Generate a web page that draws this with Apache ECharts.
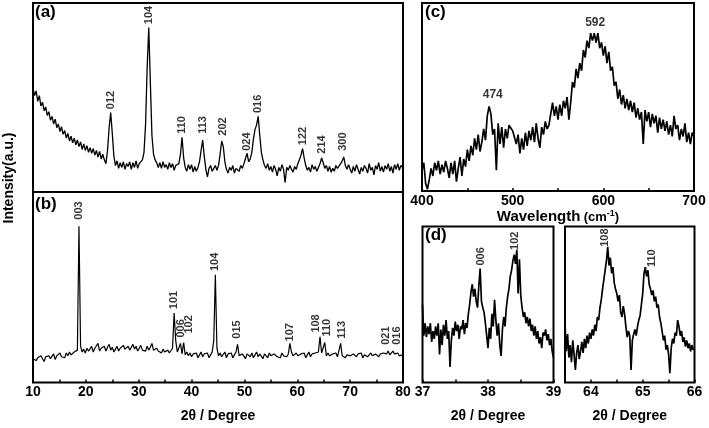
<!DOCTYPE html>
<html><head><meta charset="utf-8">
<script src="https://cdn.jsdelivr.net/npm/echarts/dist/echarts.min.js"></script>
<style>html,body{margin:0;padding:0;background:#fff}#c{width:709px;height:428px}</style>
</head><body><div id="c"></div>
<script>
const FONT = '"Liberation Sans", Arial, Helvetica, sans-serif';

// ---------- (a) XRD pattern, 2θ from 10 in 0.3° steps ----------
const aStart = 10, aStep = 0.3;
const aIntensity = [
 55, 51, 53.5, 48, 51, 45.5, 47.5, 43, 45, 40.5,
 42.5, 38, 40, 36, 38.5, 34, 36, 32, 34.5, 30.5,
 32.5, 28.5, 31, 27, 29.5, 26, 28.5, 25, 27.5, 24,
 26.5, 22.5, 25.5, 22, 24.5, 21, 23.5, 20.5, 23, 19.5,
 22, 18.5, 21.5, 17.5, 20, 17, 15, 22, 34, 42,
 31, 19, 14, 16.5, 12.5, 15.5, 13, 16, 12, 15,
 13.5, 16, 12, 15.5, 13, 16.5, 12.5, 15, 14, 17,
 21, 36, 66, 87, 58, 30, 20, 17, 15.5, 13,
 15.5, 12.5, 16, 13, 14.5, 12, 15.5, 13, 15, 11.5,
 14, 13, 15, 20, 29, 18, 13, 11, 14.5, 12,
 14.5, 10.5, 13.5, 11, 13, 16, 22, 27.5, 19, 12,
 8, 12.5, 14, 11, 12.5, 14, 11.5, 14, 20, 27,
 24, 16, 12, 10, 13, 11.5, 14, 10, 12.5, 13.5,
 11, 14, 12.5, 15, 16, 20.5, 16, 17.5, 21, 28,
 33, 35.5, 40, 30, 21, 17, 14, 12.5, 15, 11.5,
 13.5, 10.5, 14, 12, 8.5, 13, 11, 14.5, 12, 5,
 13, 11.5, 14, 12, 10.5, 13.5, 12, 15, 17, 19.5,
 23, 18, 14, 11.5, 13, 10.5, 14.5, 12, 13.5, 11,
 13, 15, 18, 15.5, 12.5, 14, 11, 13.5, 10.5, 12.5,
 11, 14, 12.5, 13.5, 15, 16.5, 18.5, 14, 12, 14.5,
 12, 10, 13.5, 11, 14.5, 12, 9.5, 13, 11, 14,
 12.5, 10, 15, 11.5, 13, 9, 14, 12, 15.5, 11,
 13.5, 10.5, 14, 12, 15, 11, 13.5, 10, 14.5, 12,
 15, 11.5, 14, 13
];
const aPeakNames = ['012','104','110','113','202','024','016','122','214','300'];
const aPeakPos   = [24.7, 31.9, 38.1, 42.2, 45.9, 50.4, 52.6, 61.1, 64.6, 68.7];
const aPeakTop   = [43, 88, 30, 30, 29, 21, 41, 24, 19.5, 21];

// ---------- (b) XRD pattern, 2θ from 10 in 0.3° steps ----------
const bStart = 10, bStep = 0.3;
const bIntensity = [
 12.5, 13.5, 11.5, 13, 12, 14, 12.5, 11, 13.5, 12.5,
 14, 12.5, 13.5, 15, 12, 14, 13, 15.5, 13.5, 14.5,
 13, 15.5, 14, 16, 14.5, 13.5, 16, 15, 17, 82,
 19, 16, 17.5, 15.5, 18, 16.5, 17, 19, 16, 18,
 17, 20.5, 16.5, 18, 17, 19, 16.5, 18.5, 20, 17,
 18.5, 16, 17.5, 19, 16.5, 18, 17, 19.5, 17.5, 18,
 19, 17, 18.5, 20, 17.5, 19, 16.5, 18, 19.5, 17,
 18, 16.5, 19, 17, 18.5, 20.5, 17, 16, 18, 16.5,
 17, 15.5, 17.5, 16, 15, 17, 15.5, 16.5, 18, 36.5,
 22, 16, 15.5, 20.5, 15, 21, 14.5, 16, 14, 15.5,
 13.5, 15, 14, 15.5, 13, 14.5, 16, 13.5, 15, 14,
 15.5, 13, 14.5, 16, 22, 56.5, 18, 14, 15.5, 13.5,
 14.5, 16, 13, 15, 14, 15.5, 13, 14.5, 16, 20,
 14, 13, 15, 14.5, 12.5, 15, 14, 13.5, 15.5, 13,
 14.5, 16, 13.5, 15, 14, 12.5, 15, 14.5, 13, 15.5,
 14, 13, 15, 16, 13.5, 14.5, 13, 15.5, 14, 15,
 13.5, 15, 20.5, 16, 14, 13, 15.5, 14, 13.5, 15,
 14, 15.5, 13, 14.5, 16, 13.5, 15, 14, 15.5, 14.5,
 16, 24, 15.5, 15, 21, 14, 15.5, 14, 13, 15,
 14, 15.5, 13.5, 14.5, 20.5, 14, 15, 13, 14.5, 15.5,
 14, 13, 15, 14.5, 13.5, 15, 14, 15.5, 13, 14.5,
 15, 13.5, 14, 15.5, 14, 13, 15, 14.5, 13.5, 15,
 14, 15.5, 16, 15, 16.5, 14.5, 15, 16.5, 15, 14,
 15.5, 14, 15, 14.5
];
const bPeakNames = ['003','101','006','102','104','015','107','108','110','113','021','016'];
const bPeakPos   = [18.7, 36.7, 37.9, 39.5, 44.5, 48.6, 58.7, 63.6, 65.7, 68.4, 76.7, 78.8];
const bPeakTop   = [84.7, 37.7, 22.8, 24.9, 57.7, 22.2, 20.8, 25.4, 23.3, 22.2, 19, 19];

// ---------- (c) spectrum, from 400 cm-1 in 2 cm-1 steps ----------
const cStart = 400, cStep = 2;
const cIntensity = [
 11, 15, 4, 1, 6, 12, 8, 15, 11, 16,
 9, 14, 10, 16, 12, 7, 15, 9, 16, 5,
 12, 18, 8, 17, 13, 22, 16, 24, 19, 28,
 22, 30, 21, 26, 33, 27, 40, 45, 41, 30,
 33, 11, 36, 25, 34, 23, 33, 28, 35, 34,
 32, 31, 25, 30, 20, 28, 22, 31, 24, 32,
 27, 34, 26, 36, 28, 23, 34, 30, 37, 33,
 35, 41, 47, 40, 45, 38, 46, 40, 48, 44,
 50, 38, 47, 58, 55, 65, 60, 68, 64, 75,
 71, 80, 76, 84, 80, 84, 79, 84, 76, 79,
 72, 77, 68, 74, 64, 66, 56, 58, 49, 54,
 46, 51, 44, 49, 43, 48, 42, 47, 39, 44,
 38, 42, 25, 43, 37, 42, 34, 41, 36, 40,
 31, 39, 33, 38, 32, 37, 30, 35, 29, 40,
 33, 35, 27, 33, 29, 36, 26, 31, 25, 31,
 29
];
const cPeakNames = ['474','592'];
const cPeakPos   = [478, 591];
const cPeakTop   = [47, 85.6];

// ---------- (d) zoomed XRD regions ----------
const d1Start = 37, d1Step = 0.02;
const d1Intensity = [
 50, 30, 38, 29, 36, 31, 38, 26, 33, 28,
 36, 30, 38, 18, 34, 24, 37, 30, 40, 28,
 33, 10, 27, 35, 30, 39, 33, 37, 28, 36,
 34, 40, 31, 38, 35, 44, 50, 58, 63, 55,
 60, 52, 48, 62, 73, 52, 48, 45, 38, 30,
 22, 35, 28, 44, 36, 53, 40, 30, 38, 24,
 17, 34, 42, 36, 48, 55, 60, 68, 72, 78,
 82, 76, 85, 57, 79, 56, 48, 42, 45, 38,
 42, 36, 41, 33, 37, 30, 36, 28, 33, 25,
 29, 22, 32, 30, 34, 27, 31, 24, 28, 20,
 16
];
const d1PeakNames = ['006','102'];
const d1PeakPos   = [37.89, 38.41];
const d1PeakTop   = [74, 84];

const d2Start = 63.5, d2Step = 0.025;
const d2Intensity = [
 38, 20, 31, 16, 24, 13, 27, 18, 8, 19,
 24, 15, 20, 26, 19, 28, 22, 30, 25, 32,
 28, 34, 30, 37, 33, 42, 40, 48, 53, 60,
 66, 72, 78, 87, 75, 80, 70, 74, 64, 60,
 57, 52, 56, 45, 42, 49, 44, 36, 29, 33,
 30, 8, 27, 31, 34, 30, 36, 40, 43, 50,
 57, 70, 74, 68, 72, 63, 60, 56, 59, 52,
 55, 48, 50, 42, 38, 33, 27, 30, 21, 24,
 18, 6, 22, 28, 25, 32, 30, 40, 36, 30,
 33, 26, 29, 23, 27, 22, 25, 20, 24, 21,
 22
];
const d2PeakNames = ['108','110'];
const d2PeakPos   = [64.27, 65.18];
const d2PeakTop   = [86, 73];

// ---------- build ----------
function toPairs(start, step, vals) {
  return vals.map((v, i) => [+(start + i * step).toFixed(4), v]);
}
function trace(gi, data, width) {
  return { type: 'line', xAxisIndex: gi, yAxisIndex: gi, data: data, showSymbol: false, symbol: 'none',
    lineStyle: { color: '#000', width: width }, silent: true, animation: false, z: 3 };
}
function peakLabels(gi, names, xs, ys, rotated, size) {
  return { type: 'scatter', xAxisIndex: gi, yAxisIndex: gi, symbolSize: 1, silent: true, animation: false, z: 5,
    itemStyle: { color: 'rgba(0,0,0,0)' },
    data: names.map((n, i) => ({ name: n, value: [xs[i], ys[i]] })),
    label: { show: true, formatter: '{b}', position: 'top', distance: 1,
      rotate: rotated ? 90 : 0, align: rotated ? 'left' : 'center', verticalAlign: rotated ? 'middle' : 'bottom',
      color: '#000', fontSize: size, fontWeight: 'bold', fontFamily: FONT } };
}
function xAx(gi, min, max, interval, every, name, gap, nameStyle) {
  return { type: 'value', gridIndex: gi, min: min, max: max, interval: interval,
    axisLine: { show: false }, splitLine: { show: false },
    axisTick: { show: true, inside: true, length: 3, lineStyle: { color: '#000', width: 1.5 } },
    axisLabel: { color: '#000', fontSize: 14, fontWeight: 'bold', fontFamily: FONT, margin: 3,
      formatter: v => (Math.abs(v / every - Math.round(v / every)) < 1e-6 ? String(Math.round(v)) : '') },
    name: name, nameLocation: 'middle', nameGap: gap,
    nameTextStyle: nameStyle || { color: '#000', fontSize: 14, fontWeight: 'bold', fontFamily: FONT } };
}
function yAx(gi) { return { type: 'value', gridIndex: gi, min: 0, max: 100, show: false }; }

const gridStyle = { show: true, borderColor: '#000', borderWidth: 2, backgroundColor: 'transparent' };
const option = {
  backgroundColor: '#fff',
  animation: false,
  grid: [
    Object.assign({ left: 33, top: 3, width: 370, height: 189 }, gridStyle),
    Object.assign({ left: 33, top: 192, width: 370, height: 190.5 }, gridStyle),
    Object.assign({ left: 422, top: 3, width: 272, height: 188 }, gridStyle),
    Object.assign({ left: 422.5, top: 226.5, width: 131, height: 156 }, gridStyle),
    Object.assign({ left: 565, top: 226.5, width: 129.5, height: 156 }, gridStyle)
  ],
  xAxis: [
    { type: 'value', gridIndex: 0, min: 10, max: 80, show: false },
    xAx(1, 10, 80, 5, 10, '2θ / Degree', 27),
    xAx(2, 400, 700, 50, 100, '{a|Wavelength} {b|(cm}{s|-1}{b|)}', 18, {
      color: '#000', fontFamily: FONT, fontWeight: 'bold',
      rich: {
        a: { fontSize: 15, fontWeight: 'bold', fontFamily: FONT, color: '#000' },
        b: { fontSize: 13, fontWeight: 'bold', fontFamily: FONT, color: '#000', verticalAlign: 'bottom' },
        s: { fontSize: 9, fontWeight: 'bold', fontFamily: FONT, color: '#000', verticalAlign: 'top' }
      } }),
    xAx(3, 37, 39, 0.5, 1, '2θ / Degree', 27),
    xAx(4, 63.5, 66, 0.5, 1, '2θ / Degree', 27)
  ],
  yAxis: [yAx(0), yAx(1), yAx(2), yAx(3), yAx(4)],
  graphic: [
    { type: 'text', left: 35, top: 4, style: { text: '(a)', font: 'bold 17px ' + FONT, fill: '#000' } },
    { type: 'text', left: 35, top: 196, style: { text: '(b)', font: 'bold 17px ' + FONT, fill: '#000' } },
    { type: 'text', left: 425, top: 4, style: { text: '(c)', font: 'bold 17px ' + FONT, fill: '#000' } },
    { type: 'text', left: 425, top: 227, style: { text: '(d)', font: 'bold 17px ' + FONT, fill: '#000' } },
    { type: 'text', x: 9, y: 178, rotation: Math.PI / 2,
      style: { text: 'Intensity(a.u.)', font: 'bold 14px ' + FONT, fill: '#000',
        align: 'center', verticalAlign: 'middle', textAlign: 'center', textVerticalAlign: 'middle' } }
  ],
  series: [
    trace(0, toPairs(aStart, aStep, aIntensity), 1.3),
    trace(1, toPairs(bStart, bStep, bIntensity), 1.2),
    trace(2, toPairs(cStart, cStep, cIntensity), 1.7),
    trace(3, toPairs(d1Start, d1Step, d1Intensity), 1.7),
    trace(4, toPairs(d2Start, d2Step, d2Intensity), 1.7),
    peakLabels(0, aPeakNames, aPeakPos, aPeakTop, true, 11),
    peakLabels(1, bPeakNames, bPeakPos, bPeakTop, true, 11),
    peakLabels(2, cPeakNames, cPeakPos, cPeakTop, false, 12),
    peakLabels(3, d1PeakNames, d1PeakPos, d1PeakTop, true, 11),
    peakLabels(4, d2PeakNames, d2PeakPos, d2PeakTop, true, 11)
  ]
};
const chart = echarts.init(document.getElementById('c'), null, { renderer: 'canvas' });
chart.setOption(option);
</script></body></html>
